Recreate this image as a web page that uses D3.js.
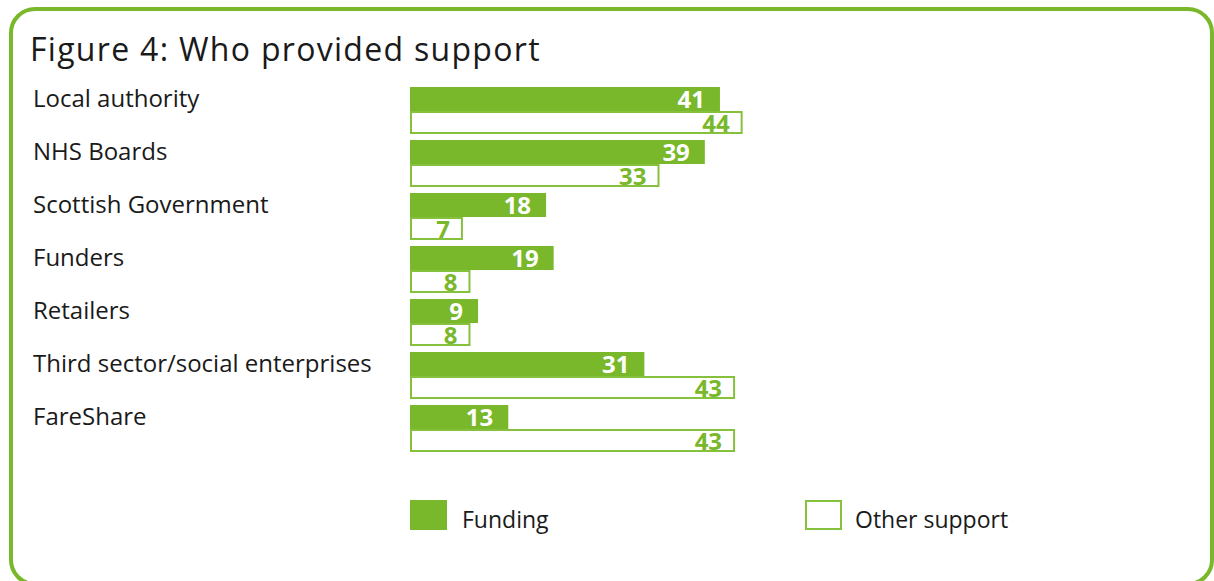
<!DOCTYPE html>
<html>
<head>
<meta charset="utf-8">
<script src="https://cdn.jsdelivr.net/npm/d3@7"></script>
<style>
  html, body { margin: 0; padding: 0; background: #fff; }
  svg { display: block; }
  text { font-family: "Open Sans", "Noto Sans", sans-serif; }
</style>
</head>
<body>
<svg id="chart" width="1214" height="581"></svg>
<script>
// Survey responses: who provided support, by type of support
const categories = [
  "Local authority",
  "NHS Boards",
  "Scottish Government",
  "Funders",
  "Retailers",
  "Third sector/social enterprises",
  "FareShare"
];
const funding = [41, 39, 18, 19, 9, 31, 13];
const otherSupport = [44, 33, 7, 8, 8, 43, 43];
const seriesNames = ["Funding", "Other support"];
const title = "Figure 4: Who provided support";

const green = "#78b82a";
const outline = "#86c13e";
const ink = "#1a1a1a";

const svg = d3.select("#chart");

// Rounded frame around the figure (its lower edge runs past the page bottom)
svg.append("rect")
  .attr("x", 11).attr("y", 9)
  .attr("width", 1201).attr("height", 575)
  .attr("rx", 24).attr("ry", 24)
  .attr("fill", "#fff")
  .attr("stroke", green)
  .attr("stroke-width", 4);

svg.append("text")
  .attr("x", 30).attr("y", 61)
  .attr("font-size", 32)
  .attr("letter-spacing", 1.3)
  .attr("fill", ink)
  .text(title);

const x = d3.scaleLinear().domain([0, 50]).range([410, 788]);
const y = d3.scaleBand().domain(categories).range([87, 87 + 53 * categories.length]).padding(0);
const sub = d3.scaleBand().domain(seriesNames).range([0, 48]).padding(0);

const rows = categories.map((c, i) => ({ cat: c, f: funding[i], o: otherSupport[i] }));

const g = svg.append("g");
const row = g.selectAll("g.row").data(rows).join("g")
  .attr("class", "row")
  .attr("transform", d => `translate(0,${y(d.cat)})`);

// Category labels
row.append("text")
  .attr("x", 33)
  .attr("y", 20)
  .attr("font-size", 24)
  .attr("fill", ink)
  .text(d => d.cat);

// Funding bars (solid)
row.append("rect")
  .attr("x", x(0))
  .attr("y", sub("Funding"))
  .attr("width", d => x(d.f) - x(0))
  .attr("height", sub.bandwidth())
  .attr("fill", green);

row.append("text")
  .attr("x", d => x(d.f) - 15)
  .attr("y", sub("Funding") + 21)
  .attr("text-anchor", "end")
  .attr("font-size", 24)
  .attr("font-weight", 700)
  .attr("fill", "#fff")
  .text(d => d.f);

// Other support bars (outlined)
row.append("rect")
  .attr("x", x(0) + 1)
  .attr("y", sub("Other support") + 1)
  .attr("width", d => x(d.o) - x(0) - 2)
  .attr("height", sub.bandwidth() - 3)
  .attr("fill", "#fff")
  .attr("stroke", outline)
  .attr("stroke-width", 2);

row.append("text")
  .attr("x", d => x(d.o) - 13)
  .attr("y", sub("Other support") + 21)
  .attr("text-anchor", "end")
  .attr("font-size", 24)
  .attr("font-weight", 700)
  .attr("fill", green)
  .text(d => d.o);

// Legend
const legendX = [410, 805];
const legend = svg.append("g").selectAll("g").data(seriesNames).join("g")
  .attr("transform", (d, i) => `translate(${legendX[i]},500)`);

legend.append("rect")
  .attr("x", (d, i) => i === 0 ? 0 : 1)
  .attr("y", (d, i) => i === 0 ? 0 : 1)
  .attr("width", (d, i) => i === 0 ? 37 : 35)
  .attr("height", (d, i) => i === 0 ? 30 : 28)
  .attr("fill", (d, i) => i === 0 ? green : "#fff")
  .attr("stroke", (d, i) => i === 0 ? "none" : outline)
  .attr("stroke-width", 2);

legend.append("text")
  .attr("x", (d, i) => i === 0 ? 52 : 50)
  .attr("y", 28)
  .attr("font-size", 23)
  .attr("fill", ink)
  .text(d => d);
</script>
</body>
</html>
